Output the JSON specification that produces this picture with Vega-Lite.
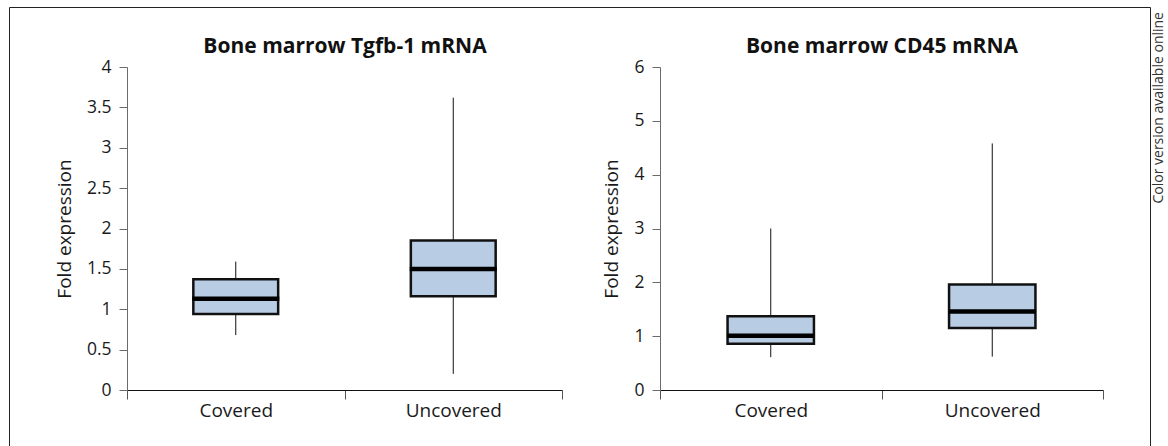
{
  "$schema": "https://vega.github.io/schema/vega-lite/v6.json",
  "width": 1141,
  "height": 439,
  "autosize": "none",
  "padding": {"left": 9, "top": 7, "right": 18, "bottom": 0},
  "background": "white",
  "config": {
    "font": "Open Sans",
    "view": {"stroke": "#222", "strokeWidth": 1},
    "axis": {"grid": false, "labelColor": "#1a1a1a", "titleColor": "#1a1a1a", "labelFont": "Open Sans", "titleFont": "Open Sans"},
    "axisY": {"labelFontSize": 17.5, "labelPadding": 8, "tickSize": 8, "domainColor": "#6b6b6b", "tickColor": "#6b6b6b", "titleFontSize": 19, "titleFontWeight": "normal", "titlePadding": 12, "format": "~g"},
    "axisX": {"labelAngle": 0, "labelFontSize": 19, "labelPadding": 2, "tickSize": 9, "tickBand": "extent", "domainColor": "#111", "tickColor": "#555", "titleFontSize": 21, "titleFontWeight": "bold", "titleBaseline": "alphabetic", "titleColor": "#111"}
  },
  "title": {"text": "Color version available online", "orient": "right", "anchor": "start", "angle": -90, "align": "right", "baseline": "middle", "frame": "group", "offset": -5, "dx": -5, "fontSize": 14, "fontWeight": "normal", "color": "#333", "font": "Open Sans"},
  "datasets": {
    "tgfb": [
      {"group": "Covered", "lower": 0.68, "q1": 0.94, "median": 1.13, "q3": 1.37, "upper": 1.59},
      {"group": "Uncovered", "lower": 0.2, "q1": 1.16, "median": 1.5, "q3": 1.85, "upper": 3.62}
    ],
    "cd45": [
      {"group": "Covered", "lower": 0.61, "q1": 0.86, "median": 1.01, "q3": 1.37, "upper": 3.0},
      {"group": "Uncovered", "lower": 0.62, "q1": 1.15, "median": 1.46, "q3": 1.96, "upper": 4.58}
    ]
  },
  "layer": [
    {
      "data": {"name": "tgfb"},
      "encoding": {
        "x": {"field": "group", "type": "nominal", "sort": ["Covered", "Uncovered"],
          "scale": {"type": "band", "range": [118, 553], "paddingInner": 0, "paddingOuter": 0},
          "axis": {"orient": "bottom", "offset": -56, "title": "Bone marrow Tgfb-1 mRNA", "titleY": -338}}
      },
      "layer": [
        {
          "mark": {"type": "rule", "color": "#111", "strokeWidth": 1},
          "encoding": {
            "y": {"field": "lower", "type": "quantitative", "scale": {"domain": [0, 4], "range": [383, 60], "nice": false, "zero": false},
              "axis": {"orient": "left", "offset": -118, "values": [0, 0.5, 1, 1.5, 2, 2.5, 3, 3.5, 4], "title": "Fold expression"}},
            "y2": {"field": "upper"}
          }
        },
        {
          "mark": {"type": "bar", "color": "#b8cce4", "stroke": "#111", "strokeWidth": 2.5, "width": {"band": 0.39}},
          "encoding": {
            "y": {"field": "q1", "type": "quantitative", "scale": {"domain": [0, 4], "range": [383, 60], "nice": false, "zero": false},
              "axis": {"orient": "left", "offset": -118, "values": [0, 0.5, 1, 1.5, 2, 2.5, 3, 3.5, 4], "title": "Fold expression"}},
            "y2": {"field": "q3"}
          }
        },
        {
          "mark": {"type": "tick", "color": "#000", "opacity": 1, "size": 87, "thickness": 4.5},
          "encoding": {
            "y": {"field": "median", "type": "quantitative", "scale": {"domain": [0, 4], "range": [383, 60], "nice": false, "zero": false},
              "axis": {"orient": "left", "offset": -118, "values": [0, 0.5, 1, 1.5, 2, 2.5, 3, 3.5, 4], "title": "Fold expression"}}
          }
        }
      ]
    },
    {
      "data": {"name": "cd45"},
      "encoding": {
        "x": {"field": "group", "type": "nominal", "sort": ["Covered", "Uncovered"],
          "scale": {"type": "band", "range": [651, 1094], "paddingInner": 0, "paddingOuter": 0},
          "axis": {"orient": "bottom", "offset": -56, "title": "Bone marrow CD45 mRNA", "titleY": -338}}
      },
      "layer": [
        {
          "mark": {"type": "rule", "color": "#111", "strokeWidth": 1},
          "encoding": {
            "y": {"field": "lower", "type": "quantitative", "scale": {"domain": [0, 6], "range": [383, 60], "nice": false, "zero": false},
              "axis": {"orient": "left", "offset": -651, "values": [0, 1, 2, 3, 4, 5, 6], "title": "Fold expression"}},
            "y2": {"field": "upper"}
          }
        },
        {
          "mark": {"type": "bar", "color": "#b8cce4", "stroke": "#111", "strokeWidth": 2.5, "width": {"band": 0.39}},
          "encoding": {
            "y": {"field": "q1", "type": "quantitative", "scale": {"domain": [0, 6], "range": [383, 60], "nice": false, "zero": false},
              "axis": {"orient": "left", "offset": -651, "values": [0, 1, 2, 3, 4, 5, 6], "title": "Fold expression"}},
            "y2": {"field": "q3"}
          }
        },
        {
          "mark": {"type": "tick", "color": "#000", "opacity": 1, "size": 87, "thickness": 4.5},
          "encoding": {
            "y": {"field": "median", "type": "quantitative", "scale": {"domain": [0, 6], "range": [383, 60], "nice": false, "zero": false},
              "axis": {"orient": "left", "offset": -651, "values": [0, 1, 2, 3, 4, 5, 6], "title": "Fold expression"}}
          }
        }
      ]
    }
  ],
  "resolve": {"scale": {"x": "independent", "y": "independent"}, "axis": {"x": "independent", "y": "independent"}}
}
